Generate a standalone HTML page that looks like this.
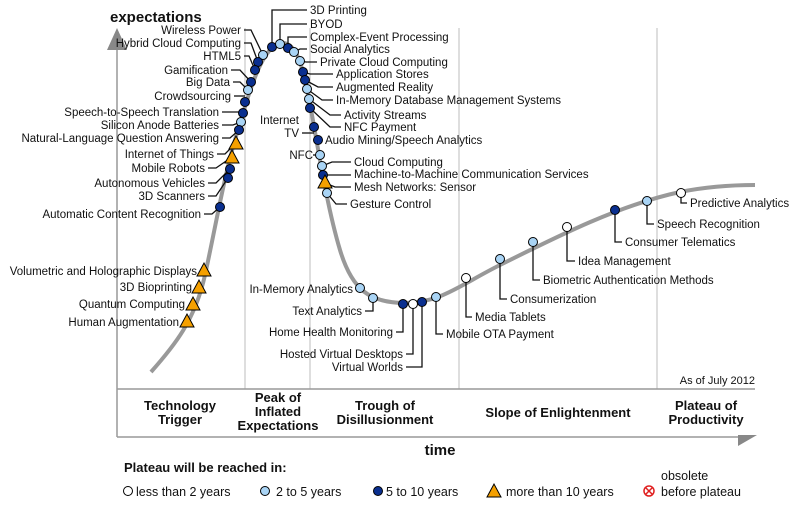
<!DOCTYPE html>
<html><head><meta charset="utf-8"><style>
html,body{margin:0;padding:0;background:#fff}
svg{display:block;font-family:"Liberation Sans",Arial,sans-serif}
.l{font-size:11.5px;fill:#111}
.b{font-weight:bold;font-size:13px;fill:#111}
.ld{fill:none;stroke:#111;stroke-width:1.3}
.d{fill:#0a2f8f;stroke:#000;stroke-width:1}
.c{fill:#a9d4f5;stroke:#000;stroke-width:1}
.w{fill:#fff;stroke:#000;stroke-width:1}
.t{fill:#f5a000;stroke:#000;stroke-width:1}
</style></head><body>
<svg width="799" height="505" viewBox="0 0 799 505" xmlns="http://www.w3.org/2000/svg">
<!-- phase lines -->
<g stroke="#d4d4d4" stroke-width="1.5">
<line x1="245" y1="28" x2="245" y2="389"/><line x1="310" y1="28" x2="310" y2="389"/>
<line x1="459" y1="28" x2="459" y2="389"/><line x1="657" y1="28" x2="657" y2="389"/>
</g>
<!-- axes -->
<g stroke="#999" stroke-width="1.5">
<line x1="117" y1="40" x2="117" y2="437"/><line x1="117" y1="389" x2="755" y2="389"/><line x1="117" y1="437" x2="745" y2="437"/>
</g>
<polygon points="107,50 127,50 117,28" fill="#888"/>
<polygon points="738,435 757,435 738,446" fill="#888"/>
<!-- curve -->
<path d="M151,372 C175,345 195,320 205,275 C215,230 225,170 238,130 C250,90 262,45 282,43 C300,42 305,80 312,115 C320,160 328,210 340,250 C352,290 370,303 405,303 C440,303 460,285 500,265 C560,235 620,205 680,192 C710,186 735,185 755,185" fill="none" stroke="#999" stroke-width="4"/>
<text x="110" y="22" class="b" style="font-size:15px">expectations</text>
<text x="755" y="384" class="l" text-anchor="end" style="font-size:11px">As of July 2012</text>
<!-- phase labels -->
<g class="b" text-anchor="middle">
<text x="180" y="410">Technology</text><text x="180" y="424">Trigger</text>
<text x="278" y="402">Peak of</text><text x="278" y="416">Inflated</text><text x="278" y="430">Expectations</text>
<text x="385" y="410">Trough of</text><text x="385" y="424">Disillusionment</text>
<text x="558" y="417">Slope of Enlightenment</text>
<text x="706" y="410">Plateau of</text><text x="706" y="424">Productivity</text>
</g>
<text x="440" y="455" class="b" style="font-size:15px" text-anchor="middle">time</text>
<text x="124" y="472" class="b">Plateau will be reached in:</text>
<!-- legend -->
<circle cx="128" cy="491" r="4.5" class="w"/><text x="136" y="496" class="l" style="font-size:12.5px">less than 2 years</text>
<circle cx="265" cy="491" r="4.5" class="c"/><text x="276" y="496" class="l" style="font-size:12.5px">2 to 5 years</text>
<circle cx="378" cy="491" r="4.5" class="d"/><text x="386" y="496" class="l" style="font-size:12.5px">5 to 10 years</text>
<polygon points="487,497 501,497 494,484" class="t"/><text x="506" y="496" class="l" style="font-size:12.5px">more than 10 years</text>
<circle cx="649" cy="491" r="5" fill="#fff" stroke="#e02020" stroke-width="1.5"/><path d="M646,488 L652,494 M652,488 L646,494" stroke="#e02020" stroke-width="1.5"/>
<text x="661" y="480" class="l" style="font-size:12.5px">obsolete</text><text x="661" y="496" class="l" style="font-size:12.5px">before plateau</text>

<!-- left rising labels -->
<g class="ld">
<path d="M244,30 H251 L263,55"/><path d="M244,43 H251 L258,62"/><path d="M244,56 H249 L255,70"/>
<path d="M231,70 H240 L251,82"/><path d="M233,82 H240 L248,90"/><path d="M234,96 H245"/>
<path d="M222,112 H243"/><path d="M222,125 H233 L241,122"/><path d="M222,138 H230 L239,130"/>
<path d="M217,154 H225 L236,143"/><path d="M208,168 H216 L232,157"/><path d="M208,183 H216 L230,169"/>
<path d="M208,196 H216 L228,178"/><path d="M204,214 H212 L220,207"/>
</g>
<g class="l" text-anchor="end">
<text x="241" y="34">Wireless Power</text><text x="241" y="47">Hybrid Cloud Computing</text><text x="241" y="60">HTML5</text>
<text x="228" y="74">Gamification</text><text x="230" y="86">Big Data</text><text x="231" y="100">Crowdsourcing</text>
<text x="219" y="116">Speech-to-Speech Translation</text><text x="219" y="129">Silicon Anode Batteries</text>
<text x="219" y="142">Natural-Language Question Answering</text><text x="214" y="158">Internet of Things</text>
<text x="205" y="172">Mobile Robots</text><text x="205" y="187">Autonomous Vehicles</text>
<text x="205" y="200">3D Scanners</text><text x="201" y="218">Automatic Content Recognition</text>
<text x="197" y="275">Volumetric and Holographic Displays</text><text x="192" y="291">3D Bioprinting</text>
<text x="185" y="308">Quantum Computing</text><text x="179" y="326">Human Augmentation</text>
</g>
<!-- peak & falling leaders -->
<g class="ld">
<path d="M272,47 V10 H307"/><path d="M280,44 V24 H307"/><path d="M288,48 V37 H307"/>
<path d="M294,52 L300,49 H307"/><path d="M300,61 L306,62 H317"/>
<path d="M303,72 L310,74 H333"/><path d="M305,80 L318,87 H333"/><path d="M307,89 L322,100 H333"/>
<path d="M309,99 L330,115 H341"/><path d="M310,108 L330,127 H341"/>
<path d="M302,133 H314"/><path d="M313,155 H320"/>
<path d="M322,166 L332,162 H351"/><path d="M323,175 H351"/><path d="M325,183 L335,187 H351"/><path d="M327,193 L336,204 H347"/>
<path d="M373,298 V311 H365"/><path d="M403,304 V332 H396"/><path d="M413,304 V354 H406"/><path d="M422,302 V367 H406"/>
<path d="M436,297 V334 H443"/><path d="M466,278 V317 H472"/><path d="M500,259 V299 H507"/>
<path d="M533,242 V280 H540"/><path d="M567,227 V261 H575"/><path d="M615,210 V242 H622"/>
<path d="M647,201 V224 H654"/><path d="M681,193 V203 H687"/>
</g>
<g class="l">
<text x="310" y="14">3D Printing</text><text x="310" y="28">BYOD</text><text x="310" y="41">Complex-Event Processing</text>
<text x="310" y="53">Social Analytics</text><text x="320" y="66">Private Cloud Computing</text>
<text x="336" y="78">Application Stores</text><text x="336" y="91">Augmented Reality</text>
<text x="336" y="104">In-Memory Database Management Systems</text><text x="344" y="119">Activity Streams</text>
<text x="344" y="131">NFC Payment</text><text x="325" y="144">Audio Mining/Speech Analytics</text>
<text x="354" y="166">Cloud Computing</text><text x="354" y="178">Machine-to-Machine Communication Services</text>
<text x="354" y="191">Mesh Networks: Sensor</text><text x="350" y="208">Gesture Control</text>
<text x="446" y="338">Mobile OTA Payment</text><text x="475" y="321">Media Tablets</text>
<text x="510" y="303">Consumerization</text><text x="543" y="284">Biometric Authentication Methods</text>
<text x="578" y="265">Idea Management</text><text x="625" y="246">Consumer Telematics</text>
<text x="657" y="228">Speech Recognition</text><text x="690" y="207">Predictive Analytics</text>
</g>
<g class="l" text-anchor="end">
<text x="299" y="124">Internet</text><text x="299" y="137">TV</text><text x="313" y="159">NFC</text>
<text x="353" y="293">In-Memory Analytics</text><text x="362" y="315">Text Analytics</text>
<text x="393" y="336">Home Health Monitoring</text><text x="403" y="358">Hosted Virtual Desktops</text>
<text x="403" y="371">Virtual Worlds</text>
</g>
<!-- markers -->
<g>
<circle cx="263" cy="55" r="4.5" class="c"/><circle cx="258" cy="62" r="4.5" class="d"/><circle cx="255" cy="70" r="4.5" class="d"/>
<circle cx="251" cy="82" r="4.5" class="d"/><circle cx="248" cy="90" r="4.5" class="c"/><circle cx="245" cy="102" r="4.5" class="d"/>
<circle cx="243" cy="113" r="4.5" class="d"/><circle cx="241" cy="122" r="4.5" class="c"/><circle cx="239" cy="130" r="4.5" class="d"/>
<polygon points="229,149 243,149 236,136" class="t"/><polygon points="225,163 239,163 232,150" class="t"/>
<circle cx="230" cy="169" r="4.5" class="d"/><circle cx="228" cy="178" r="4.5" class="d"/><circle cx="220" cy="207" r="4.5" class="d"/>
<polygon points="197,276 211,276 204,263" class="t"/><polygon points="192,293 206,293 199,280" class="t"/>
<polygon points="186,310 200,310 193,297" class="t"/><polygon points="180,327 194,327 187,314" class="t"/>
<circle cx="272" cy="47" r="4.5" class="d"/><circle cx="280" cy="44" r="4.5" class="c"/><circle cx="288" cy="48" r="4.5" class="d"/>
<circle cx="294" cy="52" r="4.5" class="c"/><circle cx="300" cy="61" r="4.5" class="c"/>
<circle cx="303" cy="72" r="4.5" class="d"/><circle cx="305" cy="80" r="4.5" class="d"/><circle cx="307" cy="89" r="4.5" class="c"/>
<circle cx="309" cy="99" r="4.5" class="c"/><circle cx="310" cy="108" r="4.5" class="d"/>
<circle cx="314" cy="127" r="4.5" class="d"/><circle cx="318" cy="140" r="4.5" class="d"/><circle cx="320" cy="155" r="4.5" class="c"/>
<circle cx="322" cy="166" r="4.5" class="c"/><circle cx="323" cy="175" r="4.5" class="d"/>
<polygon points="318,188 332,188 325,175" class="t"/><circle cx="327" cy="193" r="4.5" class="c"/>
<circle cx="360" cy="288" r="4.5" class="c"/><circle cx="373" cy="298" r="4.5" class="c"/>
<circle cx="403" cy="304" r="4.5" class="d"/><circle cx="413" cy="304" r="4.5" class="w"/><circle cx="422" cy="302" r="4.5" class="d"/>
<circle cx="436" cy="297" r="4.5" class="c"/><circle cx="466" cy="278" r="4.5" class="w"/><circle cx="500" cy="259" r="4.5" class="c"/>
<circle cx="533" cy="242" r="4.5" class="c"/><circle cx="567" cy="227" r="4.5" class="w"/><circle cx="615" cy="210" r="4.5" class="d"/>
<circle cx="647" cy="201" r="4.5" class="c"/><circle cx="681" cy="193" r="4.5" class="w"/>
</g>
</svg>
</body></html>
